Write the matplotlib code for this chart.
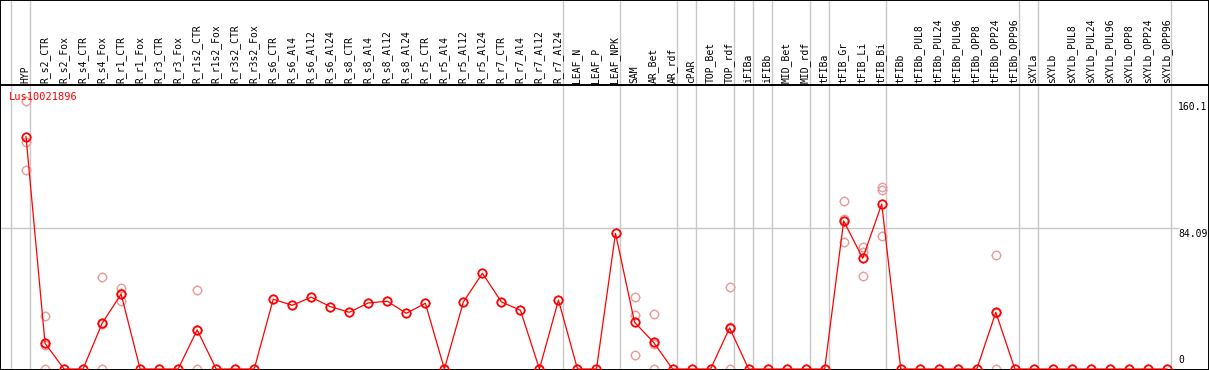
import matplotlib
matplotlib.use("Agg")
import matplotlib.pyplot as plt
import numpy as np
from matplotlib.path import Path
from matplotlib.transforms import blended_transform_factory

# ---------------- data ----------------
title = "Lus10021896"
categories = [
    "HYP", "R_s2_CTR", "R_s2_Fox", "R_s4_CTR", "R_s4_Fox", "R_r1_CTR", "R_r1_Fox",
    "R_r3_CTR", "R_r3_Fox", "R_r1s2_CTR", "R_r1s2_Fox", "R_r3s2_CTR", "R_r3s2_Fox",
    "R_s6_CTR", "R_s6_Al4", "R_s6_Al12", "R_s6_Al24", "R_s8_CTR", "R_s8_Al4",
    "R_s8_Al12", "R_s8_Al24", "R_r5_CTR", "R_r5_Al4", "R_r5_Al12", "R_r5_Al24",
    "R_r7_CTR", "R_r7_Al4", "R_r7_Al12", "R_r7_Al24", "LEAF_N", "LEAF_P", "LEAF_NPK",
    "SAM", "AR_Bet", "AR_rdf", "cPAR", "TOP_Bet", "TOP_rdf", "iFIBa", "iFIBb",
    "MID_Bet", "MID_rdf", "tFIBa", "tFIB_Gr", "tFIB_Li", "tFIB_Bi", "tFIBb",
    "tFIBb_PUL8", "tFIBb_PUL24", "tFIBb_PUL96", "tFIBb_OPP8", "tFIBb_OPP24",
    "tFIBb_OPP96", "sXYLa", "sXYLb", "sXYLb_PUL8", "sXYLb_PUL24", "sXYLb_PUL96",
    "sXYLb_OPP8", "sXYLb_OPP24", "sXYLb_OPP96",
]
mean_values = [
    138.5, 15.3, 0, 0, 27.2, 44.7, 0,
    0, 0, 23.3, 0, 0, 0,
    41.6, 38.0, 42.8, 37.2, 33.8, 39.4,
    40.4, 33.2, 39.2, 0, 40.0, 57.1,
    40.0, 35.0, 0, 41.1, 0, 0, 80.9,
    27.9, 15.9, 0, 0, 0, 24.5, 0, 0,
    0, 0, 0, 88.3, 66.0, 98.4, 0,
    0, 0, 0, 0, 33.8,
    0, 0, 0, 0, 0, 0,
    0, 0, 0,
]
# replicate measurements (category name, replicate values)
rep_names = ["HYP", "R_s2_CTR", "R_s4_Fox", "R_r1_CTR", "R_r1s2_CTR", "SAM",
             "AR_Bet", "TOP_rdf", "tFIB_Gr", "tFIB_Li", "tFIB_Bi", "tFIBb_OPP24"]
rep_values = [
    [160.0, 135.5, 118.5],
    [31.4, 0.0, 14.5],
    [54.7, 0.0, 27.0],
    [48.3, 40.4, 45.4],
    [46.9, 0.0, 23.0],
    [42.8, 32.0, 8.2],
    [32.8, 0.0, 14.9],
    [48.7, 0.0, 24.8],
    [100.0, 75.6, 89.3],
    [72.8, 55.3, 70.0],
    [108.7, 106.7, 79.1],
    [67.8, 0.0, 33.6],
]
# group separators are drawn after these categories
sep_after = ["HYP", "R_r7_Al24", "LEAF_NPK", "AR_rdf", "cPAR", "TOP_rdf", "iFIBa",
             "iFIBb", "MID_rdf", "tFIBa", "tFIB_Bi", "tFIBb_OPP96", "sXYLa", "sXYLb_OPP96"]
y_ticks = [0, 84.09, 160.1]
y_tick_labels = ["0", "84.09", "160.1"]

# ---------------- layout ----------------
W, H = 1209, 370
DPI = 100
header_px = 85
x0_px, step_px = 26.0, 19.0          # position of first category, spacing
zero_px, top_px = 369.0, 100.5       # pixel rows of 0 and 160.1

red = "#ff0000"
pink = "#eb9a9a"
grey = "#c8c8c8"
mono = "DejaVu Sans Mono"

fig = plt.figure(figsize=(W / DPI, H / DPI), dpi=DPI)
fig.patch.set_facecolor("white")

xlim = ((0 - x0_px) / step_px, (W - 1 - x0_px) / step_px)
scale = (zero_px - top_px) / y_ticks[-1]
ylim = (-(H - zero_px) / scale, (zero_px - header_px) / scale)

ax = fig.add_axes([0, 0, 1, (H - header_px) / H])
hax = fig.add_axes([0, (H - header_px) / H, 1, header_px / H])
for a in (ax, hax):
    a.set_xlim(*xlim)
    a.set_xticks([])
    a.set_yticks([])
    for s in a.spines.values():
        s.set_color("black")
        s.set_linewidth(1.4)
ax.set_ylim(*ylim)
hax.set_ylim(0, 1)
ax.spines["top"].set_visible(False)

xs = np.arange(len(categories))
idx = {c: i for i, c in enumerate(categories)}

# separators
for name in sep_after:
    xv = idx[name] + 0.23
    for a in (ax, hax):
        a.axvline(xv, color=grey, lw=1.0, zorder=1)
ax.axvline(-1 + 0.23, color=grey, lw=1.0, zorder=1)
hax.axvline(-1 + 0.23, color=grey, lw=1.0, zorder=1)

# horizontal grid line
ax.axhline(y_ticks[1], xmin=0, xmax=1178 / W, color=grey, lw=1.0, zorder=1)

# tick-only marker (four short stubs outside the ring)
r0, r1 = 1.0, 1.3
tick_verts = [(0, r0), (0, r1), (0, -r0), (0, -r1), (r0, 0), (r1, 0), (-r0, 0), (-r1, 0)]
tick_codes = [Path.MOVETO, Path.LINETO] * 4
ticks = Path(tick_verts, tick_codes)
ring_ms = 6.0
tick_ms = ring_ms * r1


def draw_markers(xv, yv, color, mew, z):
    ax.plot(xv, yv, linestyle="none", marker="o", markersize=ring_ms,
            markerfacecolor="none", markeredgecolor=color, markeredgewidth=mew, zorder=z)
    ax.plot(xv, yv, linestyle="none", marker=ticks, markersize=tick_ms,
            markerfacecolor="none", markeredgecolor=color, markeredgewidth=0.8, zorder=z)


# replicates
for name, vals in zip(rep_names, rep_values):
    draw_markers([idx[name]] * len(vals), vals, pink, 1.0, 2)

# main line
ax.plot(xs, mean_values, color=red, lw=0.9, zorder=3)
draw_markers(xs, mean_values, red, 1.3, 3)

# header labels
for i, c in enumerate(categories):
    hax.text(i - 0.03, 2 / header_px, c, rotation=90, ha="center", va="bottom",
             fontsize=7, family=mono, color="black")

# y tick labels on the right
tr = blended_transform_factory(ax.transAxes, ax.transData)
for v, lab in zip(y_ticks, y_tick_labels):
    if v == 0:
        ax.text(1178 / W, v + 4 / scale, lab, transform=tr, ha="left", va="bottom",
                fontsize=7, family=mono)
    else:
        ax.text(1178 / W, v - 1 / scale, lab, transform=tr, ha="left", va="top",
                fontsize=7, family=mono)

# gene name
ax.annotate(title, xy=(0, 1), xycoords="axes fraction", xytext=(9, -7),
            textcoords="offset pixels", ha="left", va="top", fontsize=7.5,
            family=mono, color=red, zorder=4)

fig.savefig("out.png", dpi=DPI)
